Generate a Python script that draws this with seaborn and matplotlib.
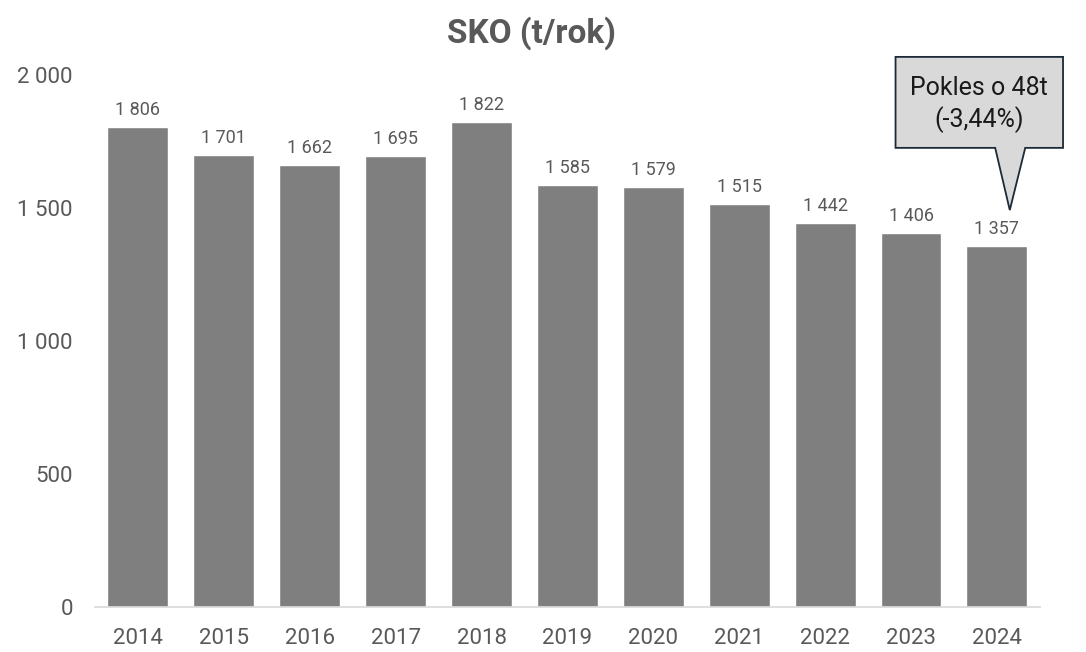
import matplotlib

matplotlib.use("Agg")
import matplotlib.pyplot as plt
import pandas as pd
import seaborn as sns
from matplotlib.patches import Polygon
from matplotlib.ticker import FuncFormatter

YEARS = ["2014", "2015", "2016", "2017", "2018", "2019", "2020", "2021", "2022", "2023", "2024"]
SKO_TONS = [1806, 1701, 1662, 1695, 1822, 1585, 1579, 1515, 1442, 1406, 1357]
Y_TICKS = [0, 500, 1000, 1500, 2000]
CALLOUT_TEXT = "Pokles o 48t\n(-3,44%)"

BAR_COLOR = "#7f7f7f"
TEXT_COLOR = "#595959"


def fmt_thousands(v, _pos=None):
    return f"{int(v):,}".replace(",", " ")


def main():
    df = pd.DataFrame({"rok": YEARS, "sko": SKO_TONS})

    sns.set_theme(style="white")
    plt.rcParams["font.family"] = ["Roboto", "DejaVu Sans"]

    fig = plt.figure(figsize=(10.86, 6.52), dpi=100)
    ax = fig.add_axes([0.0875, 0.069, 0.870, 0.816])

    sns.barplot(data=df, x="rok", y="sko", color=BAR_COLOR, width=0.71,
                saturation=1, ax=ax)

    ax.set_ylim(0, 2000)
    ax.set_xlim(-0.5, len(YEARS) - 0.5)
    ax.set_yticks(Y_TICKS)
    ax.yaxis.set_major_formatter(FuncFormatter(fmt_thousands))
    ax.set_xlabel("")
    ax.set_ylabel("")
    ax.tick_params(axis="both", colors=TEXT_COLOR, labelsize=16, length=0)
    ax.tick_params(axis="y", pad=16)
    ax.tick_params(axis="x", pad=15)

    for side in ["top", "right", "left"]:
        ax.spines[side].set_visible(False)
    ax.spines["bottom"].set_color("#d9d9d9")

    for i, v in enumerate(SKO_TONS):
        ax.text(i, v + 30, fmt_thousands(v), ha="center", va="bottom",
                fontsize=13, color=TEXT_COLOR)

    # title is centred on the whole figure, not on the plot area
    fig.text(0.489, 0.95, "SKO (t/rok)", ha="center", va="center",
             fontsize=24, fontweight="bold", color=TEXT_COLOR)

    # callout over the last bar
    last = len(YEARS) - 1
    tip_y = SKO_TONS[last] + 135
    box_top, box_bot = 2068, 1726
    box_l, box_r = last - 1.18, last + 0.77
    callout = Polygon(
        [(box_l, box_top), (box_r, box_top), (box_r, box_bot),
         (last + 0.33, box_bot), (last + 0.15, tip_y), (last - 0.02, box_bot),
         (box_l, box_bot)],
        closed=True, facecolor="#d9d9d9", edgecolor="#1b2a38", linewidth=1.3,
        clip_on=False, zorder=5,
    )
    ax.add_patch(callout)
    ax.text((box_l + box_r) / 2, (box_top + box_bot) / 2 - 8, CALLOUT_TEXT,
            ha="center", va="center", fontsize=18, color="#1a1a1a",
            linespacing=1.3, zorder=6, clip_on=False)

    fig.savefig("out.png", dpi=100)
    plt.close(fig)


if __name__ == "__main__":
    main()
